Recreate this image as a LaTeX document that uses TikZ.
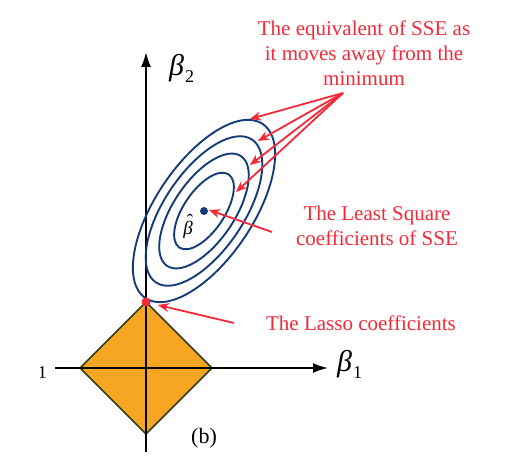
\documentclass[tikz,border=0pt]{standalone}
\usepackage{fontspec}
\setmainfont{Liberation Serif}
\usetikzlibrary{arrows.meta}
\definecolor{annred}{RGB}{245,40,55}
\definecolor{ellblue}{RGB}{20,60,120}
\definecolor{lassoorange}{RGB}{247,166,36}
\definecolor{edgegreen}{RGB}{45,65,20}
\newcommand\betasub[1]{{\itshape β}\kern1pt\raisebox{-7pt}{\fontsize{18}{18}\selectfont #1}}
\tikzset{
  axis/.style={line width=1.8pt, black, -{Latex[length=15pt,width=10pt]}},
  ell/.style={line width=1.9pt, ellblue},
  annarrow/.style={line width=1.8pt, annred, -{Stealth[length=11pt,width=9pt]}},
  anntext/.style={text=annred, font=\fontsize{21}{25}\selectfont, align=center, inner sep=0pt},
  axlabel/.style={font=\fontsize{30}{32}\selectfont, inner sep=0pt}
}
\begin{document}
\begin{tikzpicture}[x=1pt,y=-1pt]
\useasboundingbox (0,0) rectangle (530,465);
% diamond
\coordinate (L) at (80,368);
\coordinate (T) at (146,302);
\coordinate (R) at (212,368);
\coordinate (B) at (146,434);
\filldraw[fill=lassoorange, draw=edgegreen, line width=1.6pt, line join=miter] (L) -- (T) -- (R) -- (B) -- cycle;
% axes
\coordinate (xs) at (55,368);
\coordinate (xe) at (328,368);
\coordinate (ys) at (146,452);
\coordinate (ye) at (146,52);
\draw[axis] (xs) -- (xe);
\draw[axis] (ys) -- (ye);
\node[axlabel, anchor=base west] (b1) at (337,371) {\betasub{1}};
\node[axlabel, anchor=base west] (b2) at (169,76) {\betasub{2}};
\begin{scope}
\clip (40,340) rectangle (60,390);
\node[axlabel, anchor=base east] (b1l) at (47,371) {\betasub{1}};
\end{scope}
% ellipses
\coordinate (C) at (204,211);
\foreach \s in {1,0.82,0.63,0.42}
  \draw[ell, rotate around={56:(C)}] (C) ellipse [x radius=105*\s, y radius=48.4*\s];
\fill[ellblue] (C) circle (4);
\node[font=\fontsize{19}{20}\selectfont, inner sep=0pt, anchor=base] (bh) at (188,234)
  {\itshape\makebox[0pt][l]{\raisebox{6pt}{\kern3.5pt\upshape ˆ}}β};
\fill[annred] (T) circle (4.5);
% annotations
\node[anntext] (t1) at (364,53) {The equivalent of SSE as\\it moves away from the\\minimum};
\node[anntext] (t2) at (377,226) {The Least Square\\coefficients of SSE};
\node[anntext] (t3) at (361,323) {The Lasso coefficients};
\node[font=\fontsize{22}{24}\selectfont, inner sep=0pt] (lb) at (204,438) {(b)};
\coordinate (src) at (343,93);
\coordinate (e1) at (250,119);
\coordinate (e2) at (258,141);
\coordinate (e3) at (250,165);
\coordinate (e4) at (236,192);
\foreach \e in {e1,e2,e3,e4} \draw[annarrow] (src) -- (\e);
\coordinate (ls) at (272,232);
\coordinate (le) at (209,210);
\draw[annarrow] (ls) -- (le);
\coordinate (lss) at (234,323);
\coordinate (lse) at (158,305);
\draw[annarrow] (lss) -- (lse);
\end{tikzpicture}
\end{document}
